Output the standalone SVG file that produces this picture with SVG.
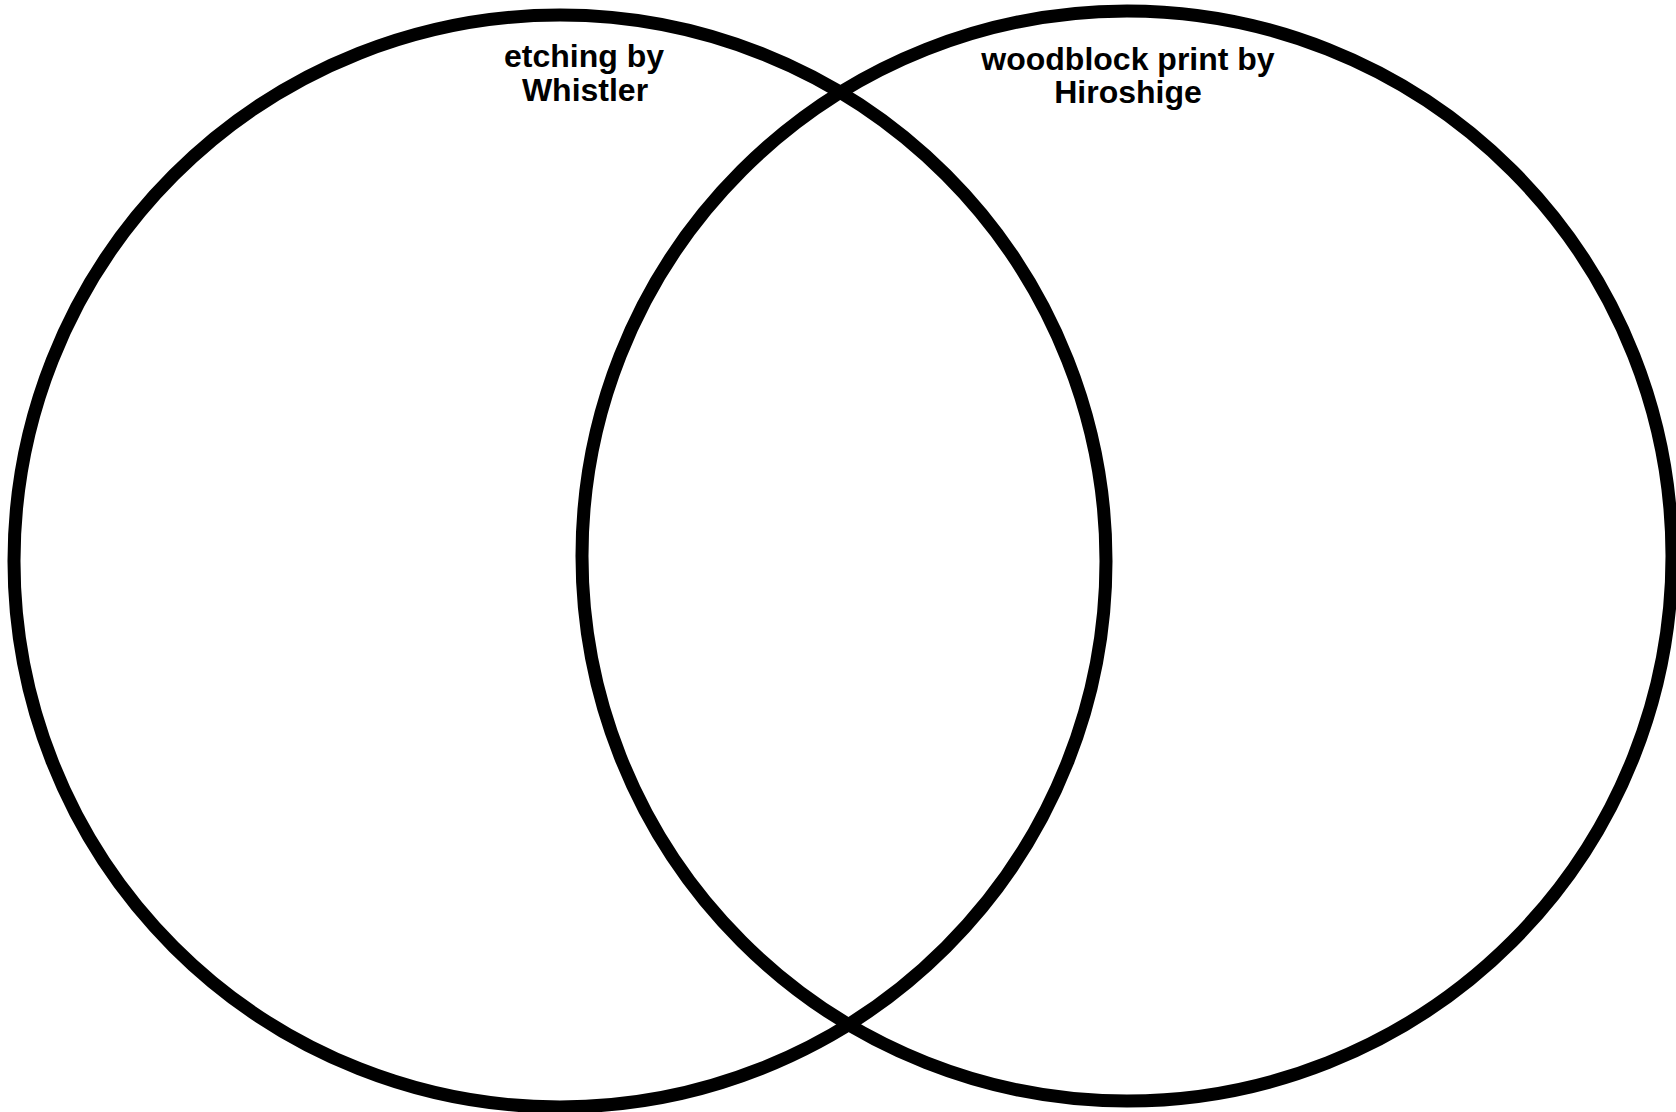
<svg xmlns="http://www.w3.org/2000/svg" width="1676" height="1112" viewBox="0 0 1676 1112">
<style>
.c{fill:none;stroke:#000;stroke-width:13}
.t{font-family:"Liberation Sans",Arial,sans-serif;font-weight:bold;fill:#000;text-anchor:middle}
</style>
<rect width="1676" height="1112" fill="#fff"/>
<g id="circle-whistler">
<circle class="c" cx="560" cy="561" r="546"/>
<text class="t" font-size="32" x="584" y="67">etching by</text>
<text class="t" font-size="32" x="585" y="101">Whistler</text>
</g>
<g id="circle-hiroshige">
<circle class="c" cx="1127" cy="556" r="545"/>
<text class="t" font-size="32" x="1128" y="69.5">woodblock print by</text>
<text class="t" font-size="32" x="1128" y="103">Hiroshige</text>
</g>
<g id="connectors"></g>
</svg>
